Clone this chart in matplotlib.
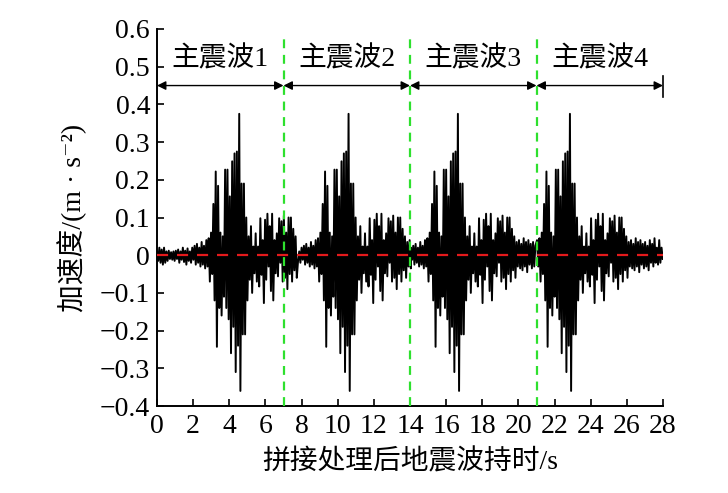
import numpy as np
import matplotlib
matplotlib.use("Agg")
import matplotlib.pyplot as plt

# ---------------- data ----------------
# one main-shock record, read as (upper, lower) excursions every 0.13 s
pair_dt = 0.13
wave_up = [0.010, 0.020, 0.015, 0.020, 0.010, 0.012, 0.008, 0.010, 0.012, 0.015,
           0.010, 0.020, 0.012, 0.018, 0.010, 0.020, 0.025, 0.030, 0.020, 0.035,
           0.025, 0.040, 0.045, 0.060, 0.136, 0.222, 0.184, 0.060, 0.050, 0.227,
           0.227, 0.156, 0.249, 0.270, 0.275, 0.375, 0.190, 0.190, 0.100, 0.050,
           0.077, 0.023, 0.058, 0.023, 0.098, 0.040, 0.094, 0.110, 0.077, 0.110,
           0.040, 0.058, 0.098, 0.090, 0.105, 0.060, 0.100, 0.100, 0.070, 0.050,
           0.035, 0.040, 0.030, 0.045, 0.035, 0.040, 0.030, 0.035, 0.025, 0.040,
           0.030, 0.045, 0.020, 0.040, 0.020, 0.010]
wave_down = [-0.015, -0.020, -0.025, -0.020, -0.015, -0.010, -0.012, -0.015, -0.010, -0.020,
             -0.012, -0.018, -0.025, -0.015, -0.020, -0.012, -0.025, -0.020, -0.030, -0.025,
             -0.035, -0.030, -0.070, -0.050, -0.120, -0.243, -0.140, -0.160, -0.110, -0.140,
             -0.170, -0.260, -0.190, -0.310, -0.240, -0.360, -0.210, -0.210, -0.120, -0.065,
             -0.100, -0.048, -0.070, -0.083, -0.052, -0.127, -0.065, -0.030, -0.095, -0.120,
             -0.048, -0.056, -0.020, -0.070, -0.060, -0.090, -0.050, -0.070, -0.040, -0.060,
             -0.030, -0.035, -0.040, -0.030, -0.045, -0.025, -0.035, -0.030, -0.040, -0.020,
             -0.030, -0.020, -0.025, -0.020, -0.010, -0.005]
wave_shift = [0.0, 6.05, 12.1, 18.3]          # start of each copy of the record (s)
splice_at = [0.0, 7.75, 14.05, 21.0, 28.0]     # where one copy hands over to the next (s)

seg_bounds = [0, 7, 14, 21, 28]
seg_labels = ["主震波1", "主震波2", "主震波3", "主震波4"]
yticks = [-0.4, -0.3, -0.2, -0.1, 0, 0.1, 0.2, 0.3, 0.4, 0.5, 0.6]
ytick_labels = ["−0.4", "−0.3", "−0.2", "−0.1", "0", "0.1", "0.2", "0.3", "0.4", "0.5", "0.6"]
xticks = list(range(0, 29, 2))

# ---------------- build spliced series ----------------
n = len(wave_up)
idx = np.arange(n)
t_rec = np.empty(2 * n)
v_rec = np.empty(2 * n)
t_rec[0::2] = idx * pair_dt
t_rec[1::2] = idx * pair_dt + pair_dt / 2
v_rec[0::2] = wave_up
v_rec[1::2] = wave_down

T, V = [], []
for k, sh in enumerate(wave_shift):
    ta = t_rec + sh
    m = (ta >= splice_at[k]) & (ta < splice_at[k + 1] + (1e-9 if k == 3 else 0))
    T.append(ta[m]); V.append(v_rec[m])
T = np.concatenate(T); V = np.concatenate(V)

# ---------------- figure ----------------
fam = ["Liberation Serif", "Noto Sans CJK SC", "DejaVu Serif"]
plt.rcParams["font.family"] = fam
plt.rcParams["axes.unicode_minus"] = True
FS = 20

fig = plt.figure(figsize=(7.28, 4.93), dpi=100)
ax = fig.add_axes([157 / 728, 1 - 406 / 493, (663 - 157) / 728, (406 - 29) / 493])

ax.plot(T, V, color="black", lw=1.4, zorder=2)
ax.plot([0, 28], [0, 0], color="#e31a1c", lw=1.6, ls=(0, (5, 4)), zorder=4)
for xb in seg_bounds[1:-1]:
    ax.plot([xb, xb], [-0.4, 0.585], color="#2ee02e", lw=1.6, ls=(0, (4, 3)),
            zorder=5, clip_on=False)

for i, lab in enumerate(seg_labels):
    a, b = seg_bounds[i], seg_bounds[i + 1]
    ax.annotate("", xy=(b, 0.45), xytext=(a, 0.45),
                arrowprops=dict(arrowstyle="<|-|>", color="black", lw=1.0,
                                shrinkA=0, shrinkB=0, mutation_scale=13),
                annotation_clip=False)
    ax.text((a + b) / 2, 0.52, lab, ha="center", va="center", fontsize=FS,
            family=fam)
ax.plot([28, 28], [0.42, 0.475], color="black", lw=1.2, clip_on=False)

ax.set_xlim(0, 28)
ax.set_ylim(-0.4, 0.6)
ax.set_xticks(xticks)
ax.set_xticklabels([str(x) for x in xticks])
ax.set_yticks(yticks)
ax.set_yticklabels(ytick_labels)
ax.tick_params(direction="in", length=5, width=1.2, labelsize=FS)
ax.tick_params(axis="x", pad=6)
ax.tick_params(axis="y", pad=5)
for s in ["top", "right"]:
    ax.spines[s].set_visible(False)
for s in ["left", "bottom"]:
    ax.spines[s].set_linewidth(1.4)

ax.set_xlabel("拼接处理后地震波持时/s", fontsize=FS, labelpad=7)
ax.set_ylabel("加速度/(m · s⁻²)", fontsize=FS, labelpad=9)

fig.savefig("out.png", dpi=100)
